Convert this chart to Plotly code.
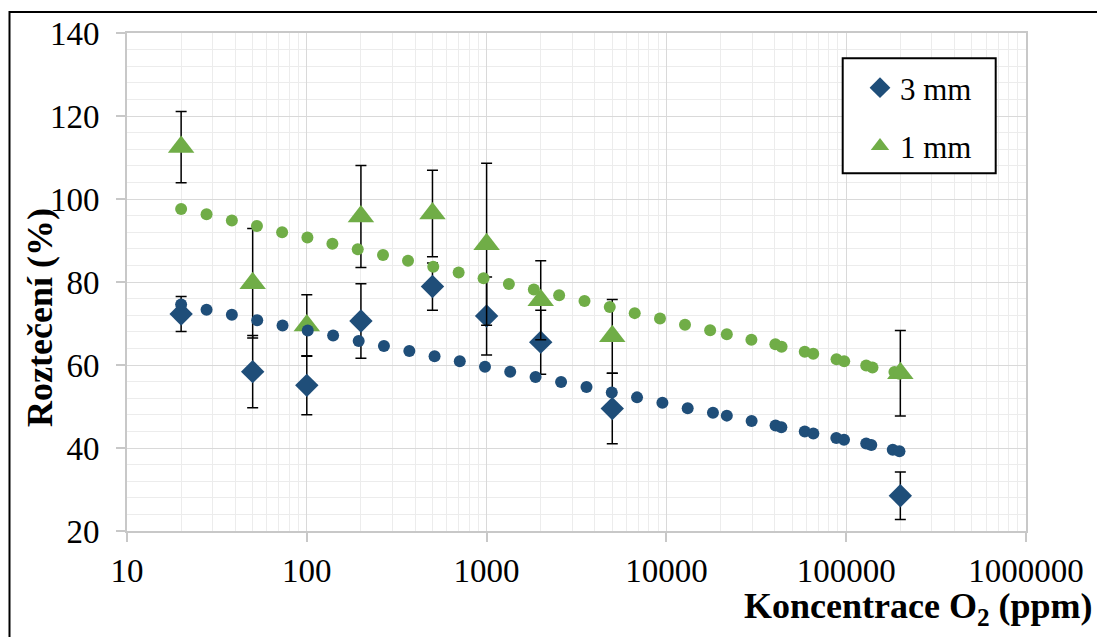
import plotly.graph_objects as go

# ---- data ----
conc = [20, 50, 100, 200, 500, 1000, 2000, 5000, 200000]
r3 = [72.3, 58.4, 55.1, 70.6, 78.9, 71.8, 65.5, 49.5, 28.5]
r3_err = [4.2, 8.7, 7.1, 9.0, 5.7, 9.4, 7.7, 8.5, 5.7]
r1 = [112.5, 79.7, 69.5, 95.8, 96.5, 89.1, 75.6, 66.9, 58.0]
r1_err = [8.6, 13.2, 7.4, 12.3, 10.4, 19.5, 9.5, 8.9, 10.3]

trend1_x = [20.0, 27.7, 38.3, 52.8, 72.9, 100.8, 138.8, 192.0, 265.4, 365.5, 505, 699, 962,
            1330, 1831, 2532, 3503, 4842, 6665, 9213, 12690, 17510, 21680, 29700, 40370,
            43710, 58810, 65560, 88350, 97480, 129200, 140000, 185500, 197800]
trend1_y = [97.6, 96.3, 94.8, 93.5, 92.0, 90.7, 89.2, 87.9, 86.5, 85.1, 83.7, 82.3, 80.9,
            79.5, 78.2, 76.8, 75.4, 74.0, 72.5, 71.2, 69.7, 68.4, 67.4, 66.1, 65.0,
            64.4, 63.2, 62.7, 61.4, 60.9, 59.9, 59.4, 58.3, 57.9]
trend3_x = [20.0, 27.7, 38.3, 53.0, 73.3, 101.2, 140.1, 194.3, 268.5, 371.8, 513.6, 709.3, 979.6,
            1353, 1872, 2596, 3594, 4967, 6865, 9502, 13135, 18150, 21680, 29780, 40470,
            43590, 58810, 65650, 88100, 97230, 129200, 137900, 181500, 197800]
trend3_y = [74.6, 73.3, 72.1, 70.8, 69.5, 68.3, 67.1, 65.8, 64.6, 63.4, 62.1, 60.9, 59.6,
            58.4, 57.1, 55.9, 54.7, 53.4, 52.2, 50.9, 49.6, 48.5, 47.8, 46.5, 45.4,
            45.0, 44.0, 43.5, 42.4, 42.0, 41.1, 40.7, 39.6, 39.2]

x_ticks = [10, 100, 1000, 10000, 100000, 1000000]
x_ticktext = ["10", "100", "1000", "10000", "100000", "1000000"]
y_ticks = [20, 40, 60, 80, 100, 120, 140]

BLUE = "#1f4e79"
GREEN = "#70ad47"
FONT = "Liberation Serif, Times New Roman, serif"

fig = go.Figure()
fig.add_trace(go.Scatter(
    x=conc, y=r3, mode="markers", name="3 mm", legendgroup="a",
    marker=dict(symbol="diamond", size=18, color=BLUE),
    error_y=dict(type="data", array=r3_err, visible=True, color="black", thickness=1.5, width=5.5),
))
fig.add_trace(go.Scatter(
    x=conc, y=r1, mode="markers", name="1 mm", legendgroup="b",
    marker=dict(symbol="triangle-up", size=23, color=GREEN),
    error_y=dict(type="data", array=r1_err, visible=True, color="black", thickness=1.5, width=5.5),
))
fig.add_trace(go.Scatter(x=trend3_x, y=trend3_y, mode="markers", showlegend=False,
                         marker=dict(size=12, color=BLUE), hoverinfo="skip"))
fig.add_trace(go.Scatter(x=trend1_x, y=trend1_y, mode="markers", showlegend=False,
                         marker=dict(size=12, color=GREEN), hoverinfo="skip"))

L, R, T, B = 127, 71, 33, 106
PW, PH = 1097 - L - R, 637 - T - B


def px(xp):
    return (xp - L) / PW


def py(yp):
    return (637 - B - yp) / PH


fig.update_layout(
    width=1097, height=637,
    margin=dict(l=L, r=R, t=T, b=B),
    paper_bgcolor="white", plot_bgcolor="white",
    font=dict(family=FONT, size=33, color="black"),
    showlegend=True,
    legend=dict(x=px(860), y=py(61), xanchor="left", yanchor="top",
                bgcolor="rgba(0,0,0,0)", borderwidth=0, font=dict(size=31, family=FONT),
                traceorder="grouped", tracegroupgap=15),
    xaxis=dict(type="log", range=[1, 6], tickvals=x_ticks, ticktext=x_ticktext,
               showgrid=True, gridcolor="#d9d9d9", gridwidth=1.3,
               minor=dict(dtick="D1", showgrid=True, gridcolor="#ececec", gridwidth=1.3),
               showline=True, linecolor="#c8c8c8", linewidth=2, mirror=True,
               ticks="outside", ticklen=9, tickcolor="#c8c8c8", tickwidth=1.5,
               ticklabelstandoff=0, zeroline=False),
    yaxis=dict(range=[20, 140], tickvals=y_ticks,
               showgrid=True, gridcolor="#d9d9d9", gridwidth=1.3,
               minor=dict(dtick=4, showgrid=True, gridcolor="#ececec", gridwidth=1.3),
               showline=True, linecolor="#c8c8c8", linewidth=2, mirror=True,
               ticks="outside", ticklen=9, tickcolor="#c8c8c8", tickwidth=1.5,
               ticklabelstandoff=10, zeroline=False),
    shapes=[
        dict(type="rect", xref="paper", yref="paper",
             x0=px(9.5), x1=px(1110), y0=py(650), y1=py(12),
             line=dict(color="black", width=2), fillcolor="rgba(0,0,0,0)", layer="above"),
        dict(type="rect", xref="paper", yref="paper",
             x0=px(842.7), x1=px(995.7), y0=py(173.3), y1=py(58.3),
             line=dict(color="black", width=2), fillcolor="white", layer="above"),
    ],
    annotations=[
        dict(text="<b>Koncentrace O<sub>2</sub> (ppm)</b>", xref="paper", yref="paper",
             x=px(1095), y=py(608), xanchor="right", yanchor="middle", showarrow=False,
             font=dict(size=36, family=FONT)),
        dict(text="<b>Roztečení (%)</b>", xref="paper", yref="paper", textangle=-90,
             x=px(40), y=py(318), xanchor="center", yanchor="middle", showarrow=False,
             font=dict(size=36, family=FONT)),
    ],
)

fig.write_html("out.html")
